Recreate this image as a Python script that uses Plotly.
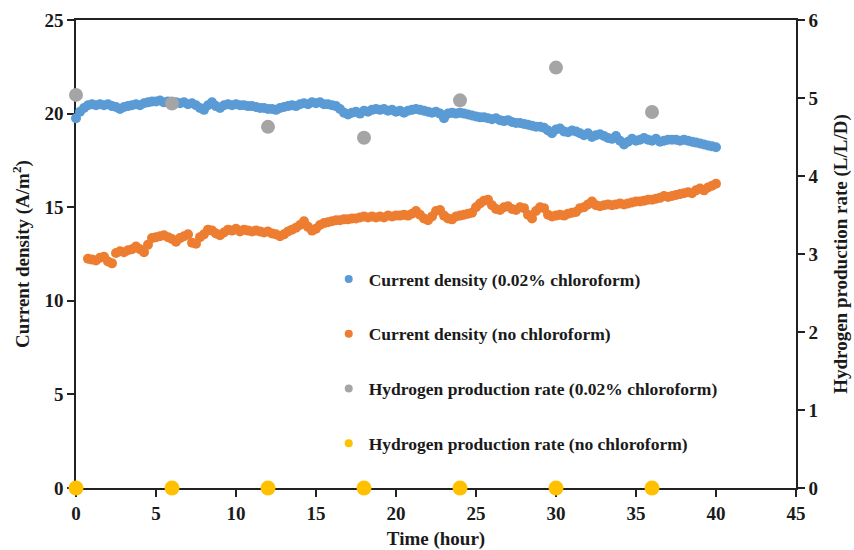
import numpy as np
import plotly.graph_objects as go

# ---- data ----
blue_start, blue_step = 0.0, 0.25
current_chloroform = [
    19.75, 20.1, 20.3, 20.45, 20.5, 20.45, 20.5, 20.45, 20.5, 20.4,
    20.35, 20.25, 20.35, 20.4, 20.45, 20.5, 20.45, 20.55, 20.6, 20.65,
    20.65, 20.7, 20.6, 20.65, 20.55, 20.6, 20.55, 20.6, 20.5, 20.55,
    20.45, 20.3, 20.2, 20.45, 20.6, 20.4, 20.3, 20.45, 20.5, 20.45,
    20.5, 20.45, 20.45, 20.4, 20.4, 20.35, 20.3, 20.3, 20.25, 20.25,
    20.2, 20.3, 20.35, 20.4, 20.45, 20.4, 20.5, 20.55, 20.5, 20.6,
    20.55, 20.6, 20.5, 20.5, 20.45, 20.4, 20.25, 20.05, 19.95, 20.05,
    20.1, 20.0, 20.15, 20.1, 20.2, 20.25, 20.2, 20.25, 20.15, 20.2,
    20.1, 20.15, 20.05, 20.15, 20.2, 20.25, 20.2, 20.15, 20.1, 20.05,
    20.1, 20.0, 19.75, 20.0, 20.05, 20.0, 20.05, 20.0, 19.95, 19.9,
    19.85, 19.8, 19.8, 19.75, 19.7, 19.75, 19.65, 19.6, 19.65, 19.55,
    19.5, 19.5, 19.45, 19.4, 19.35, 19.3, 19.3, 19.25, 19.1, 18.95,
    19.15, 19.2, 19.05, 19.0, 19.1, 19.05, 18.95, 18.85, 18.95, 18.75,
    18.85, 18.9, 18.8, 18.7, 18.65, 18.8, 18.55, 18.35, 18.5, 18.65,
    18.55, 18.6, 18.7, 18.6, 18.55, 18.65, 18.5, 18.55, 18.6, 18.6,
    18.6, 18.55, 18.6, 18.55, 18.5, 18.45, 18.4, 18.35, 18.3, 18.25,
    18.2,
]
orange_start, orange_step = 0.75, 0.25
current_no_chloroform = [
    12.25, 12.2, 12.15, 12.3, 12.35, 12.1, 12.0, 12.55, 12.65, 12.6,
    12.7, 12.75, 12.9, 12.75, 12.6, 13.0, 13.35, 13.4, 13.45, 13.5,
    13.4, 13.3, 13.15, 13.35, 13.45, 13.55, 13.1, 13.05, 13.4, 13.55,
    13.8, 13.75, 13.6, 13.5, 13.65, 13.8, 13.75, 13.85, 13.7, 13.8,
    13.75, 13.7, 13.75, 13.7, 13.65, 13.7, 13.6, 13.55, 13.45, 13.55,
    13.7, 13.8, 13.9, 14.05, 14.25, 13.95, 13.75, 13.85, 14.05, 14.15,
    14.2, 14.25, 14.3, 14.3, 14.35, 14.35, 14.4, 14.4, 14.45, 14.5,
    14.45, 14.5, 14.45, 14.5, 14.45, 14.55, 14.5, 14.55, 14.55, 14.6,
    14.55, 14.65, 14.8, 14.6, 14.4, 14.3, 14.5, 14.8, 14.85, 14.55,
    14.4, 14.35, 14.5, 14.55, 14.6, 14.65, 14.7, 15.0, 15.2, 15.35,
    15.4, 15.1, 14.9, 14.85, 15.0, 15.05, 14.9, 14.85, 15.0, 14.95,
    14.6, 14.4, 14.8, 15.0, 14.95, 14.6, 14.5, 14.55, 14.6, 14.55,
    14.65, 14.7, 14.75, 14.95, 15.0, 15.15, 15.3, 15.1, 15.05, 15.1,
    15.15, 15.1, 15.15, 15.2, 15.15, 15.2, 15.25, 15.3, 15.3, 15.35,
    15.4, 15.4, 15.45, 15.5, 15.6, 15.55, 15.6, 15.65, 15.7, 15.75,
    15.8, 15.75, 15.9, 16.0, 15.9, 16.05, 16.15, 16.25,
]
h2_times = [0, 6, 12, 18, 24, 30, 36]
h2_chloroform = [5.04, 4.93, 4.63, 4.49, 4.97, 5.39, 4.82]
h2_no_chloroform = [0, 0, 0, 0, 0, 0, 0]

names = [
    "Current density (0.02% chloroform)",
    "Current density (no chloroform)",
    "Hydrogen production rate (0.02% chloroform)",
    "Hydrogen production rate (no chloroform)",
]
colors = ["#5B9BD5", "#ED7D31", "#A5A5A5", "#FFC000"]

t_blue = blue_start + blue_step * np.arange(len(current_chloroform))
t_orange = orange_start + orange_step * np.arange(len(current_no_chloroform))

FONT = "Liberation Serif"
INK = "#1a1a1a"

fig = go.Figure()
fig.add_trace(go.Scatter(x=t_blue, y=current_chloroform, mode="markers",
                         marker=dict(color=colors[0], size=10), showlegend=False,
                         cliponaxis=False))
fig.add_trace(go.Scatter(x=t_orange, y=current_no_chloroform, mode="markers",
                         marker=dict(color=colors[1], size=10), showlegend=False,
                         cliponaxis=False))
fig.add_trace(go.Scatter(x=h2_times, y=h2_chloroform, mode="markers", yaxis="y2",
                         marker=dict(color=colors[2], size=14), showlegend=False,
                         cliponaxis=False))
fig.add_trace(go.Scatter(x=h2_times, y=h2_no_chloroform, mode="markers", yaxis="y2",
                         marker=dict(color=colors[3], size=15), showlegend=False,
                         cliponaxis=False))

# legend entries
for i, (n, c) in enumerate(zip(names, colors)):
    fig.add_trace(go.Scatter(x=[None], y=[None], mode="markers", name=f"<b>{n}</b>",
                             legendgroup=f"g{i}",
                             yaxis="y2" if i >= 2 else "y",
                             marker=dict(color=c, size=8)))

axis_common = dict(showgrid=False, zeroline=False, showline=True, linecolor="#222",
                   linewidth=1.5, ticks="outside", ticklen=7, tickcolor="#222",
                   tickwidth=1.5, layer="below traces", automargin=False,
                   tickfont=dict(family=FONT, size=19, color=INK))

fig.update_layout(
    template="none",
    width=854, height=550,
    margin=dict(l=76, r=58, t=20, b=62, pad=0),
    plot_bgcolor="white", paper_bgcolor="white",
    font=dict(family=FONT, color=INK),
    xaxis=dict(range=[0, 45], dtick=5, tick0=0, mirror=True,
               title=dict(text="<b>Time (hour)</b>", font=dict(family=FONT, size=19, color=INK),
                          standoff=9),
               tickprefix="<b>", ticksuffix="</b>", **axis_common),
    yaxis=dict(range=[0, 25], dtick=5, tick0=0,
               title=dict(text="<b>Current density (A/m<sup>2</sup>)</b>",
                          font=dict(family=FONT, size=19, color=INK), standoff=10),
               tickprefix="<b>", ticksuffix="</b>", **axis_common),
    yaxis2=dict(range=[0, 6], dtick=1, tick0=0, overlaying="y", side="right",
                title=dict(text="<b>Hydrogen production rate (L/L/D)</b>",
                           font=dict(family=FONT, size=19, color=INK), standoff=16),
                tickprefix="<b>", ticksuffix="</b>", **axis_common),
    legend=dict(x=0.351, y=0.485, xanchor="left", yanchor="top",
                bgcolor="rgba(0,0,0,0)", borderwidth=0,
                traceorder="grouped", tracegroupgap=29,
                font=dict(family=FONT, size=17.5, color=INK),
                itemwidth=30),
)

fig.write_html("out.html", config={"displayModeBar": False},
               post_script="document.body.style.margin='0';")
